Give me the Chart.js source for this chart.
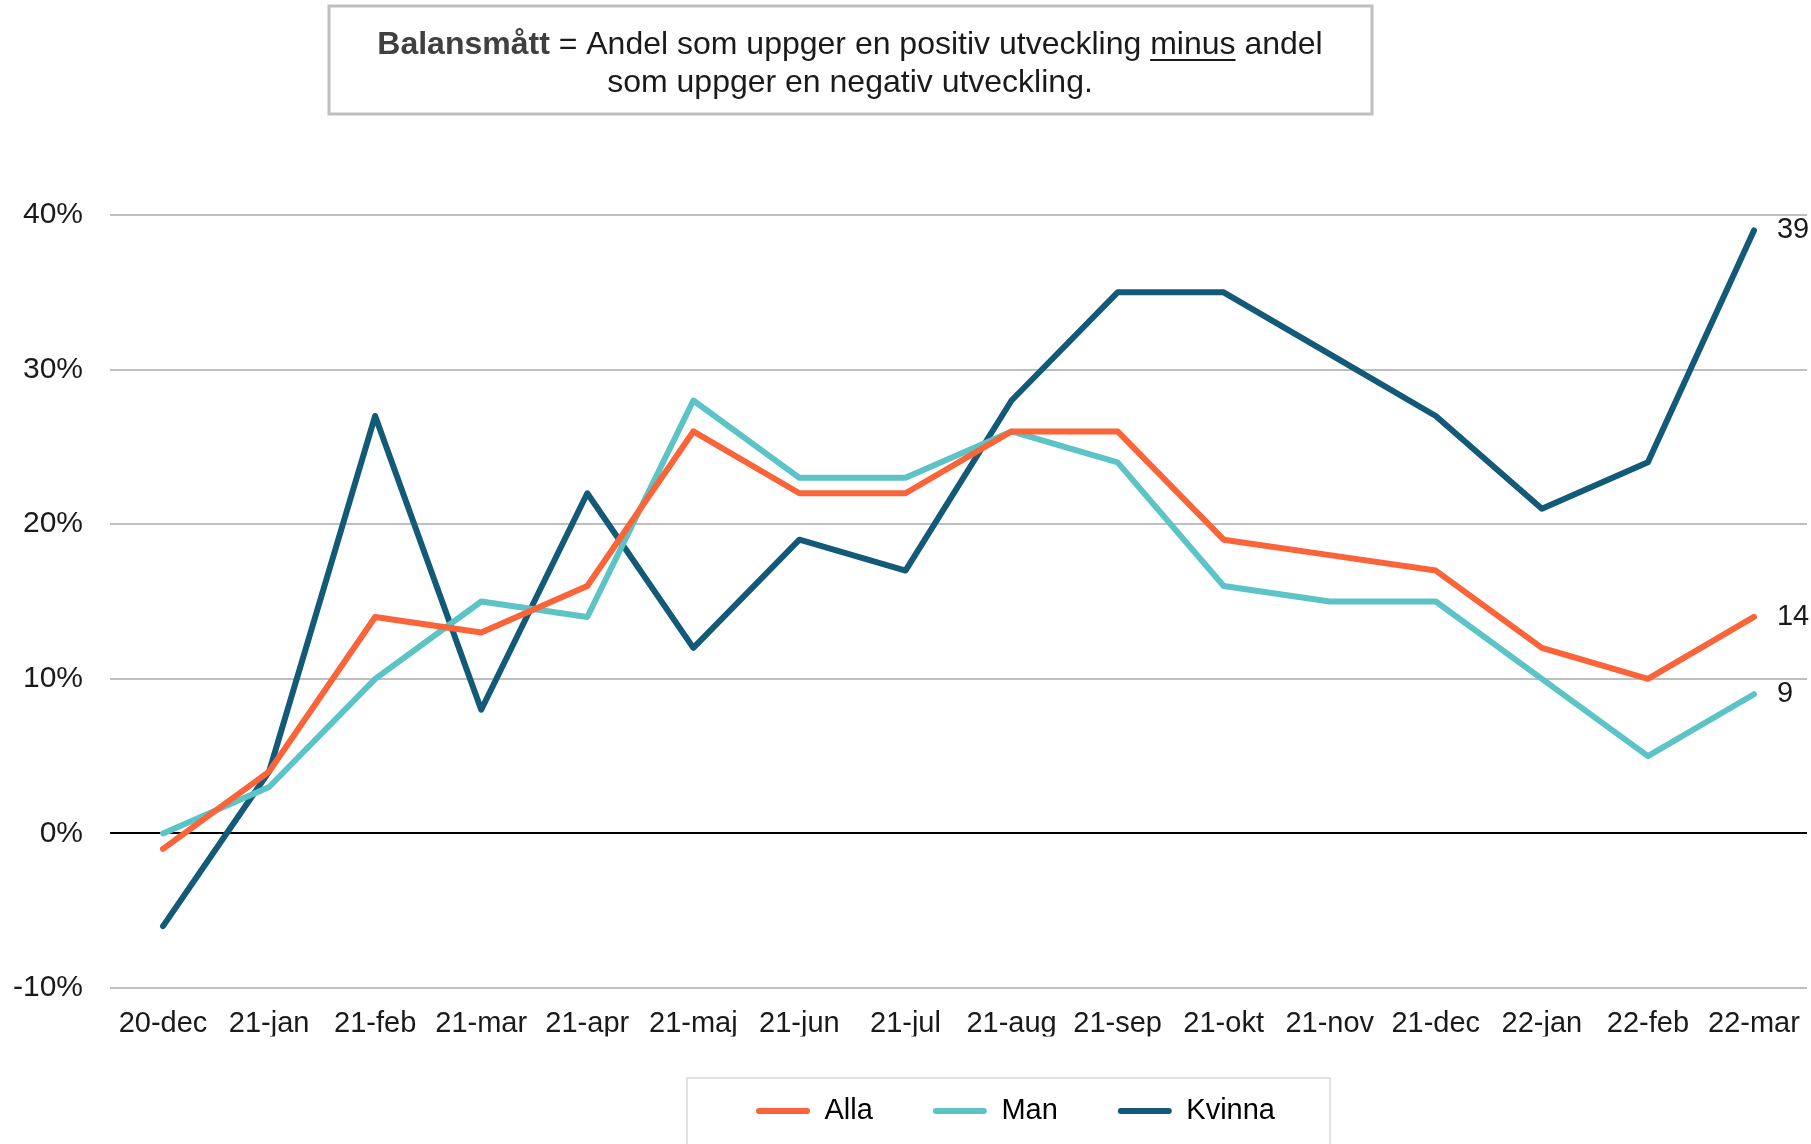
<html>
<head>
<script src="https://cdn.jsdelivr.net/npm/chart.js@4.4.0/dist/chart.umd.min.js"></script>
<style>
  body { margin: 0; background: #fff; }
  #wrap { width: 1811px; height: 1144px; }
</style>
</head>
<body>
<div id="wrap"><canvas id="myChart" width="1811" height="1144"></canvas></div>
<script>
  var months = ["20-dec", "21-jan", "21-feb", "21-mar", "21-apr", "21-maj", "21-jun", "21-jul",
                "21-aug", "21-sep", "21-okt", "21-nov", "21-dec", "22-jan", "22-feb", "22-mar"];
  var alla   = [-1, 4, 14, 13, 16, 26, 22, 22, 26, 26, 19, 18, 17, 12, 10, 14];
  var man    = [0, 3, 10, 15, 14, 28, 23, 23, 26, 24, 16, 15, 15, 10, 5, 9];
  var kvinna = [-6, 4, 27, 8, 22, 12, 19, 17, 28, 35, 35, 31, 27, 21, 24, 39];
  var yTicks = [-10, 0, 10, 20, 30, 40];

  var FONT = "'Liberation Sans', Arial, sans-serif";

  // the note box at the top
  var noteBox = {
    id: "noteBox",
    afterDraw(chart) {
      var c = chart.ctx;
      c.save();
      c.strokeStyle = "#BFBFBF";
      c.lineWidth = 3;
      c.strokeRect(329, 6, 1043, 108);
      c.textBaseline = "middle";
      var cx = 850;
      var boldTxt = "Balansmått";
      var p1 = " = Andel som uppger en positiv utveckling ";
      var ul = "minus";
      var p2 = " andel";
      c.font = "bold 32px " + FONT;
      var wb = c.measureText(boldTxt).width;
      c.font = "32px " + FONT;
      var w1 = c.measureText(p1).width, wu = c.measureText(ul).width, w2 = c.measureText(p2).width;
      var x = cx - (wb + w1 + wu + w2) / 2;
      var y = 45;
      c.textAlign = "left";
      c.font = "bold 32px " + FONT;
      c.fillStyle = "#404040";
      c.fillText(boldTxt, x, y);
      x += wb;
      c.font = "32px " + FONT;
      c.fillStyle = "#1a1a1a";
      c.fillText(p1, x, y);
      x += w1;
      c.fillText(ul, x, y);
      c.fillRect(x, y + 14, wu, 2);
      x += wu;
      c.fillText(p2, x, y);
      c.textAlign = "center";
      c.fillText("som uppger en negativ utveckling.", cx, 83);
      c.restore();
    }
  };

  // move legend right and frame it
  var legendFrame = {
    id: "legendFrame",
    afterLayout(chart) {
      var lg = chart.legend;
      lg.left += 112;
      lg.right += 112;
    },
    afterDraw(chart) {
      var lg = chart.legend;
      if (!lg || !lg.legendHitBoxes.length) return;
      var hb = lg.legendHitBoxes;
      var l = hb[0].left - 69;
      var r = hb[hb.length - 1].left + hb[hb.length - 1].width + 55;
      var c = chart.ctx;
      c.save();
      c.strokeStyle = "#D9D9D9";
      c.lineWidth = 1.5;
      c.strokeRect(l, 1078, r - l, 80);
      c.restore();
    }
  };

  // values at the end of each line
  var endLabels = {
    id: "endLabels",
    afterDatasetsDraw(chart) {
      var c = chart.ctx;
      c.save();
      c.font = "29px " + FONT;
      c.fillStyle = "#1a1a1a";
      c.textAlign = "left";
      c.textBaseline = "middle";
      chart.data.datasets.forEach((ds, i) => {
        var meta = chart.getDatasetMeta(i);
        var pt = meta.data[meta.data.length - 1];
        c.fillText(String(ds.data[ds.data.length - 1]), pt.x + 23, pt.y);
      });
      c.restore();
    }
  };

  var ctx = document.getElementById("myChart").getContext("2d");
  let chart = new Chart(ctx, {
    type: "line",
    data: {
      labels: months,
      datasets: [
        { label: "Alla", data: alla, borderColor: "#FA6438", backgroundColor: "#FA6438" },
        { label: "Man", data: man, borderColor: "#5CC4C7", backgroundColor: "#5CC4C7" },
        { label: "Kvinna", data: kvinna, borderColor: "#135A78", backgroundColor: "#135A78" }
      ]
    },
    options: {
      responsive: false,
      animation: false,
      layout: { padding: { top: 215, left: 0, right: 4, bottom: 8.5 } },
      elements: {
        line: { borderWidth: 6, tension: 0, borderCapStyle: "round", borderJoinStyle: "round" },
        point: { radius: 0, hoverRadius: 0 }
      },
      scales: {
        x: {
          offset: true,
          grid: { display: false, drawTicks: false },
          border: { display: false },
          ticks: { font: { family: FONT, size: 29 }, color: "#1a1a1a", padding: 18.5, maxRotation: 0, autoSkip: false },
          afterFit: s => { s.height = 48.5; s.paddingLeft = 0; s.paddingRight = 0; }
        },
        y: {
          min: -10,
          max: 40,
          afterBuildTicks: s => { s.ticks = yTicks.map(v => ({ value: v })); },
          grid: {
            drawTicks: false,
            lineWidth: 2,
            color: c => (c.tick && c.tick.value === 0) ? "#000000" : "#BFBFBF"
          },
          border: { display: false },
          ticks: { font: { family: FONT, size: 30 }, color: "#1a1a1a", padding: 27, callback: v => v + "%" },
          afterFit: s => { s.width = 110; }
        }
      },
      plugins: {
        legend: {
          position: "bottom",
          labels: {
            font: { family: FONT, size: 29 },
            color: "#000",
            boxWidth: 54,
            boxHeight: 6,
            padding: 60,
            generateLabels: ch => ch.data.datasets.map((ds, i) => ({
              text: ds.label,
              fillStyle: ds.borderColor,
              strokeStyle: ds.borderColor,
              lineWidth: 0,
              borderRadius: 3,
              datasetIndex: i
            }))
          }
        },
        tooltip: { enabled: false }
      }
    },
    plugins: [noteBox, legendFrame, endLabels]
  });
</script>
</body>
</html>
